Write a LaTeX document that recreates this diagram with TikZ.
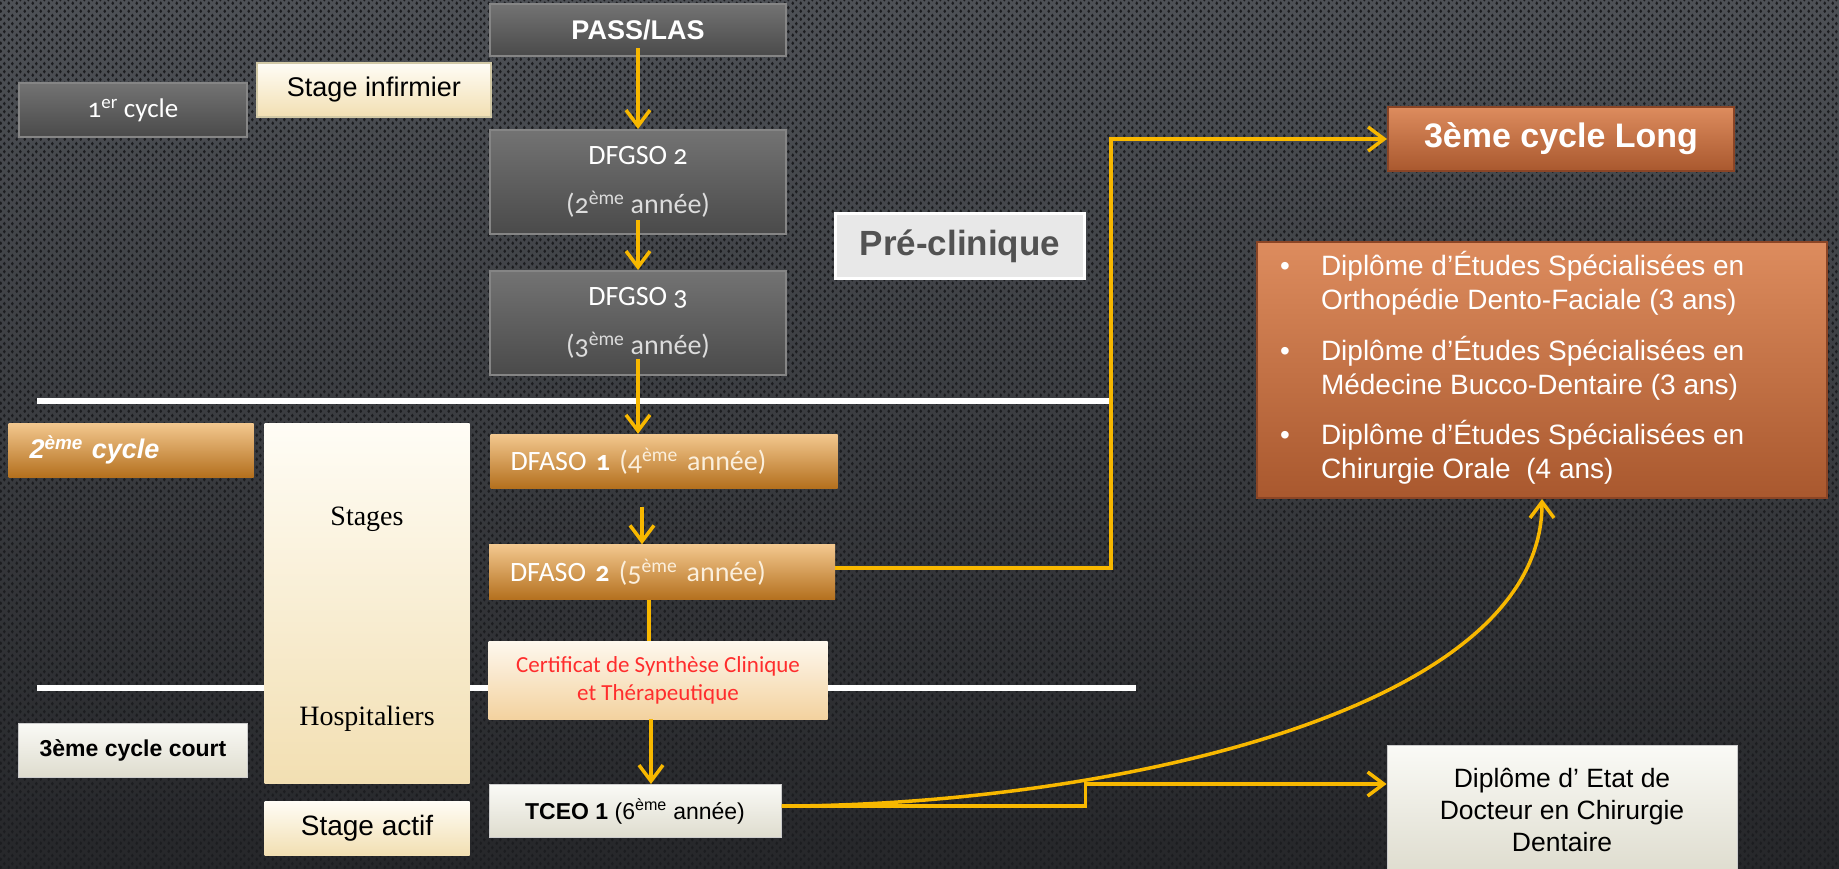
\documentclass[tikz,border=0pt]{standalone}
\usepackage{fontspec}
\setmainfont{Liberation Sans}
\newfontfamily\calfont[Numbers=OldStyle]{Carlito}
\newfontfamily\timesfont{Liberation Serif}
\usetikzlibrary{arrows.meta,positioning,patterns}

\definecolor{bgtop}{HTML}{4E5156}
\definecolor{bgbot}{HTML}{26272A}
\definecolor{dotcol}{HTML}{1C1D20}
\definecolor{greytop}{HTML}{737373}
\definecolor{greybot}{HTML}{4A4A4A}
\definecolor{greyedge}{HTML}{858585}
\definecolor{creamtop}{HTML}{FFFDF6}
\definecolor{creambot}{HTML}{F2DFB2}
\definecolor{creamedge}{HTML}{D2C9A6}
\definecolor{ambertop}{HTML}{F3C88F}
\definecolor{ambermid}{HTML}{EBA545}
\definecolor{amberbot}{HTML}{B4701E}
\definecolor{papertop}{HTML}{FAFAF6}
\definecolor{paperbot}{HTML}{DEDCCE}
\definecolor{rusttop}{HTML}{DD8C5E}
\definecolor{rustbot}{HTML}{A9582E}
\definecolor{rustedge}{HTML}{8A4526}
\definecolor{gold}{HTML}{F8B800}
\definecolor{certred}{HTML}{FF2D2D}
\definecolor{certtop}{HTML}{FEF8EE}
\definecolor{certbot}{HTML}{F3D29F}
\definecolor{softwhite}{HTML}{DCDCDC}
\definecolor{creamtext}{HTML}{FBEFDC}

% background texture
\pgfdeclarepatternformonly{mesh}{\pgfpointorigin}{\pgfpoint{8pt}{8pt}}{\pgfpoint{8pt}{8pt}}{
  \pgfpathellipse{\pgfpoint{2pt}{2pt}}{\pgfpoint{1.6pt}{0pt}}{\pgfpoint{0pt}{2.2pt}}
  \pgfpathellipse{\pgfpoint{6pt}{6pt}}{\pgfpoint{1.6pt}{0pt}}{\pgfpoint{0pt}{2.2pt}}
  \pgfusepath{fill}
}

\begin{document}
\begin{tikzpicture}[x=1pt,y=-1pt,>={Straight Barb[length=16pt,width=24pt]},
  every node/.style={rectangle,inner sep=0pt,align=center},
  greybox/.style={draw=greyedge,line width=2pt,top color=greytop,bottom color=greybot,text=white},
  creambox/.style={draw=creamedge,line width=1.5pt,top color=creamtop,bottom color=creambot,text=black},
  amberbox/.style={top color=ambertop,middle color=ambermid,bottom color=amberbot,text=white},
  paperbox/.style={draw=white!80!black,line width=1pt,top color=papertop,bottom color=paperbot,text=black},
  rustbox/.style={draw=rustedge,line width=2pt,top color=rusttop,bottom color=rustbot,text=white},
  flow/.style={draw=gold,line width=3.5pt,->},
  sepline/.style={draw=white,line width=6pt}]

  \useasboundingbox (0,0) rectangle (1839,868);
  \fill[top color=bgtop,bottom color=bgbot] (0,0) rectangle (1839,868);
  \fill[pattern=mesh,pattern color=dotcol] (0,0) rectangle (1839,868);

  \draw[sepline] (37,401) -- (1109,401);
  \draw[sepline] (37,688) -- (1136,688);

  % premier cycle
  \node[greybox,minimum width=296pt,minimum height=52pt,font=\bfseries\fontsize{27}{32}\selectfont] (pass) at (638,30) {PASS/LAS};
  \node[creambox,minimum width=234pt,minimum height=54pt,font=\fontsize{27}{32}\selectfont] (infirmier) at (374,90) {Stage infirmier};
  \node[greybox,minimum width=228pt,minimum height=54pt,font=\fontsize{27}{32}\calfont] (cycle1) at (133,110) {1\textsuperscript{er} cycle};
  \node[greybox,minimum width=296pt,minimum height=104pt,font=\fontsize{28}{49}\calfont] (dfgso2) [below of=pass,node distance=152pt] {DFGSO 2\\{\color{softwhite}(2\textsuperscript{ème} année)}};
  \node[greybox,minimum width=296pt,minimum height=104pt,font=\fontsize{28}{49}\calfont] (dfgso3) [below of=dfgso2,node distance=141pt] {DFGSO 3\\{\color{softwhite}(3\textsuperscript{ème} année)}};
  \node[draw=white,line width=3pt,fill=black!9,text=black!68,minimum width=249pt,minimum height=65pt,font=\bfseries\fontsize{35}{40}\selectfont] (preclin) at (960,246) {Pré-clinique};

  % troisieme cycle long
  \node[rustbox,minimum width=346pt,minimum height=64pt,font=\bfseries\fontsize{34}{40}\selectfont] (long3) at (1561,139) {3ème cycle Long};
  \node[rustbox,minimum width=570pt,minimum height=256pt,font=\fontsize{28}{34}\selectfont] (desbox) at (1542,370) {%
    \begin{tabular}{@{}p{41pt}@{}p{483pt}@{}}
      \textbullet & Diplôme d’Études Spécialisées en\\
      & Orthopédie Dento-Faciale (3 ans)\\[16pt]
      \textbullet & Diplôme d’Études Spécialisées en\\
      & Médecine Bucco-Dentaire (3 ans)\\[16pt]
      \textbullet & Diplôme d'Études Spécialisées en\\
      & Chirurgie Orale \ (4 ans)
    \end{tabular}};

  % deuxieme cycle
  \node[amberbox,minimum width=245pt,minimum height=54pt,text width=203pt,inner xsep=21pt,align=left,font=\bfseries\itshape\fontsize{27}{32}\selectfont] (cycle2) at (131,450) {2\textsuperscript{ème} cycle};
  \node[top color=creamtop,bottom color=creambot,minimum width=205pt,minimum height=360pt,font=\fontsize{28}{30}\timesfont] (stages) at (367,603) {\rule{0pt}{50pt}Stages\\[170pt]Hospitaliers};
  \node[amberbox,minimum width=347pt,minimum height=54pt,text width=307pt,inner xsep=20pt,align=left,font=\fontsize{28}{32}\calfont] (dfaso1) at (664,461) {DFASO \textbf{1} {\color{creamtext}(4\textsuperscript{ème} année)}};
  \node[amberbox,minimum width=346pt,minimum height=55pt,text width=304pt,inner xsep=21pt,align=left,font=\fontsize{28}{32}\calfont] (dfaso2) at (662,572) {DFASO \textbf{2} {\color{creamtext}(5\textsuperscript{ème} année)}};
  \node[top color=certtop,bottom color=certbot,text=certred,minimum width=339pt,minimum height=78pt,font=\fontsize{23}{28}\calfont] (certif) at (658,680) {Certificat de Synthèse Clinique\\et Thérapeutique};

  % troisieme cycle court
  \node[paperbox,minimum width=229pt,minimum height=54pt,font=\bfseries\fontsize{23}{28}\selectfont] (court3) at (133,750) {3ème cycle court};
  \node[top color=creamtop,bottom color=creambot,minimum width=205pt,minimum height=54pt,font=\fontsize{28}{32}\selectfont] (actif) at (367,828) {Stage actif};
  \node[paperbox,minimum width=292pt,minimum height=53pt,font=\fontsize{23}{28}\selectfont] (tceo) at (635,811) {\textbf{TCEO 1} (6\textsuperscript{ème} année)};
  \node[paperbox,minimum width=350pt,minimum height=129pt,font=\fontsize{26.5}{32}\selectfont] (dedcd) at (1562,810) {Diplôme d’ Etat de\\Docteur en Chirurgie\\Dentaire};

  % liaisons
  \draw[flow] ([yshift=9pt]pass.south) -- (dfgso2.north);
  \draw[flow] ([yshift=15pt]dfgso2.south) -- (dfgso3.north);
  \draw[flow] ([yshift=17pt]dfgso3.south) -- (dfgso3.south |- dfaso1.north);
  \draw[flow] ([xshift=-22pt,yshift=-19pt]dfaso1.south) -- ([xshift=-20pt]dfaso2.north);
  \draw[flow,-] ([xshift=-13pt]dfaso2.south) -- ([xshift=-9pt]certif.north);
  \draw[flow] ([xshift=-7pt]certif.south) -- ([xshift=16pt]tceo.north);
  \draw[flow] ([yshift=4pt]dfaso2.east) -- ++(276,0) |- (long3.west);
  \draw[flow] ([yshift=5pt]tceo.east) -- ++(304,0) |- ([yshift=26pt]dedcd.west);
  \draw[flow] ([yshift=5pt]tceo.east) .. controls +(300,0) and +(0,220) .. (desbox.south);
\end{tikzpicture}
\end{document}
